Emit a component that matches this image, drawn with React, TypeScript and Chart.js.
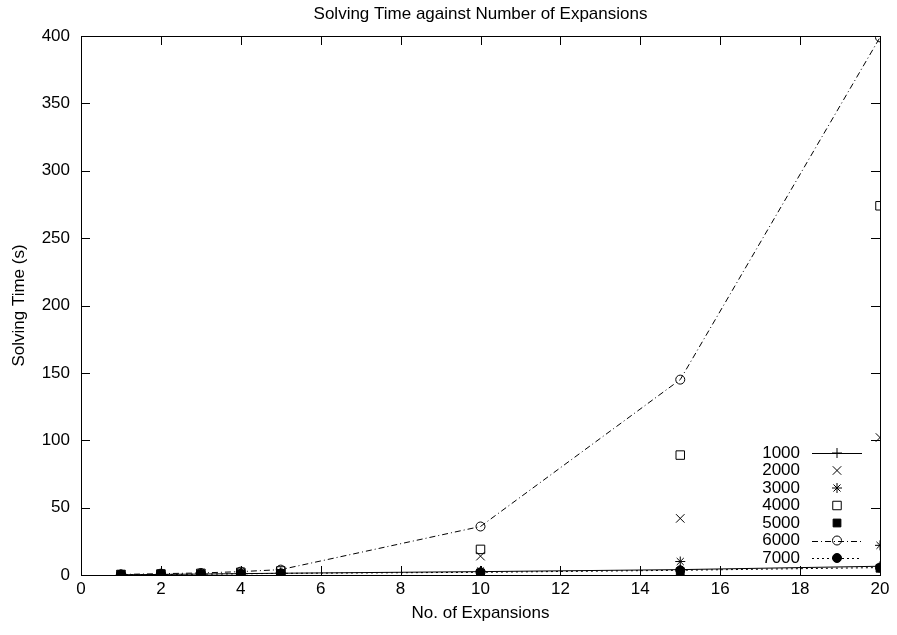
import React, { useEffect, useRef } from "react";
import { Chart, registerables } from "chart.js";
import { drawPoint } from "chart.js/helpers";

Chart.register(...registerables);

// Expansion counts (x) and solving times in seconds for each problem size
const expansions = [1, 2, 3, 4, 5, 10, 15, 20];
const t1000 = [0.2, 0.4, 0.7, 1.0, 1.3, 2.5, 4.0, 6.5];
const t2000 = [0.3, 0.5, 0.8, 1.2, 1.5, 14, 42, 102];
const t3000 = [0.3, 0.6, 1.0, 1.5, 2.0, 3.0, 10, 22];
const t4000 = [0.4, 0.8, 1.2, 2.0, 3.0, 19, 89, 274];
const t5000 = [0.2, 0.4, 0.6, 0.8, 1.0, 1.5, 2.5, 5.0];
const t6000 = [0.4, 1.0, 1.5, 2.5, 4.0, 36, 145, 399];
const t7000 = [0.2, 0.4, 0.6, 0.9, 1.2, 2.0, 3.5, 5.5];

const xTicks = [0, 2, 4, 6, 8, 10, 12, 14, 16, 18, 20];
const yTicks = [0, 50, 100, 150, 200, 250, 300, 350, 400];

const FONT = "Liberation Sans, Arial, sans-serif";
const FS = 17;
const TITLE = "Solving Time against Number of Expansions";

const pts = (ys: number[]) => expansions.map((x, i) => ({ x, y: ys[i] }));

// Gnuplot-like frame: border box, inward ticks on all sides, title and key inside the plot
const framePlugin = {
  id: "frame",
  afterDraw(chart: any) {
    const { ctx, chartArea: a, scales } = chart;
    ctx.save();
    ctx.strokeStyle = "#000";
    ctx.lineWidth = 1;
    ctx.strokeRect(Math.round(a.left) + 0.5, Math.round(a.top) + 0.5, Math.round(a.right - a.left), Math.round(a.bottom - a.top));
    const tl = 9;
    ctx.beginPath();
    for (const v of xTicks) {
      const px = Math.round(scales.x.getPixelForValue(v)) + 0.5;
      ctx.moveTo(px, a.bottom);
      ctx.lineTo(px, a.bottom - tl);
      ctx.moveTo(px, a.top);
      ctx.lineTo(px, a.top + tl);
    }
    for (const v of yTicks) {
      const py = Math.round(scales.y.getPixelForValue(v)) + 0.5;
      ctx.moveTo(a.left, py);
      ctx.lineTo(a.left + tl, py);
      ctx.moveTo(a.right, py);
      ctx.lineTo(a.right - tl, py);
    }
    ctx.stroke();

    // title
    ctx.fillStyle = "#000";
    ctx.font = `${FS}px ${FONT}`;
    ctx.textAlign = "center";
    ctx.textBaseline = "middle";
    ctx.fillText(TITLE, (a.left + a.right) / 2, 14);

    // key
    const ds = chart.data.datasets;
    const rowH = 17.5;
    const textRight = a.right - 80;
    const sampleL = a.right - 68;
    const sampleR = a.right - 18;
    const y0 = a.bottom - 122;
    ctx.textAlign = "right";
    ds.forEach((d: any, i: number) => {
      const y = y0 + i * rowH;
      ctx.fillStyle = "#000";
      ctx.fillText(d.label, textRight, y);
      const mx = (sampleL + sampleR) / 2;
      if (d.showLine) {
        ctx.save();
        ctx.strokeStyle = "#000";
        ctx.lineWidth = 1;
        ctx.setLineDash(d.borderDash || []);
        ctx.beginPath();
        ctx.moveTo(sampleL, Math.round(y) + 0.5);
        ctx.lineTo(sampleR, Math.round(y) + 0.5);
        ctx.stroke();
        ctx.restore();
      }
      ctx.save();
      ctx.setLineDash([]);
      ctx.lineWidth = 1;
      ctx.strokeStyle = "#000";
      ctx.fillStyle = d.pointBackgroundColor;
      drawPoint(ctx, { pointStyle: d.pointStyle, radius: d.pointRadius, borderWidth: 1, rotation: 0 } as any, mx, y);
      ctx.restore();
    });
    ctx.restore();
  },
};

export default function App() {
  const ref = useRef<HTMLCanvasElement>(null);
  useEffect(() => {
    if (!ref.current) return;
    const base = {
      borderColor: "#000",
      borderWidth: 1,
      pointBorderColor: "#000",
      pointBorderWidth: 1,
      showLine: false,
    };
    const chart = new Chart(ref.current, {
      type: "scatter",
      data: {
        datasets: [
          { ...base, label: "1000", data: pts(t1000), showLine: true, pointStyle: "cross", pointRadius: 5, pointBackgroundColor: "#000" },
          { ...base, label: "2000", data: pts(t2000), pointStyle: "crossRot", pointRadius: 6, pointBackgroundColor: "#000" },
          { ...base, label: "3000", data: pts(t3000), pointStyle: "star", pointRadius: 5, pointBackgroundColor: "#000" },
          { ...base, label: "4000", data: pts(t4000), pointStyle: "rect", pointRadius: 6, pointBackgroundColor: "rgba(255,255,255,0)" },
          { ...base, label: "5000", data: pts(t5000), pointStyle: "rect", pointRadius: 5.5, pointBackgroundColor: "#000" },
          { ...base, label: "6000", data: pts(t6000), showLine: true, borderDash: [6, 3, 1, 3], pointStyle: "circle", pointRadius: 4.5, pointBackgroundColor: "rgba(255,255,255,0)" },
          { ...base, label: "7000", data: pts(t7000), showLine: true, borderDash: [2, 3], pointStyle: "circle", pointRadius: 4.5, pointBackgroundColor: "#000" },
        ] as any,
      },
      options: {
        animation: false,
        responsive: false,
        layout: { padding: { top: 36, right: 17, left: 0, bottom: 0 } },
        plugins: { legend: { display: false }, title: { display: false }, tooltip: { enabled: false } },
        scales: {
          x: {
            type: "linear",
            min: 0,
            max: 20,
            afterBuildTicks: (s: any) => { s.ticks = xTicks.map((v) => ({ value: v })); },
            afterFit: (s: any) => { s.height = 60; },
            grid: { display: false, drawTicks: false },
            border: { display: false },
            ticks: { color: "#000", font: { family: FONT, size: FS }, padding: 4, maxRotation: 0 },
            title: { display: true, text: "No. of Expansions", color: "#000", font: { family: FONT, size: FS }, padding: { top: 3, bottom: 11 } },
          },
          y: {
            type: "linear",
            min: 0,
            max: 400,
            afterBuildTicks: (s: any) => { s.ticks = yTicks.map((v) => ({ value: v })); },
            afterFit: (s: any) => { s.width = 81; },
            grid: { display: false, drawTicks: false },
            border: { display: false },
            ticks: { color: "#000", font: { family: FONT, size: FS }, padding: 11 },
            title: { display: true, text: "Solving Time (s)", color: "#000", font: { family: FONT, size: FS }, padding: { top: 9, bottom: 4 } },
          },
        },
      },
      plugins: [framePlugin],
    });
    return () => chart.destroy();
  }, []);
  return (
    <div style={{ position: "fixed", left: 0, top: 0, width: 897, height: 635, background: "#fff" }}>
      <canvas ref={ref} width={897} height={635} style={{ display: "block", width: 897, height: 635 }} />
    </div>
  );
}
